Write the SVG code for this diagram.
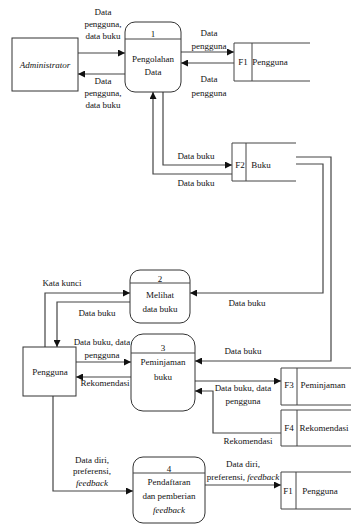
<svg xmlns="http://www.w3.org/2000/svg" width="351" height="525" viewBox="0 0 351 525">
<style>
text{font-family:'Liberation Serif','Times New Roman','DejaVu Serif',serif;font-size:9px;fill:#111;text-anchor:middle}
.it{font-style:italic}
.box{fill:#fff;stroke:#333;stroke-width:1}
.ln{fill:none;stroke:#444;stroke-width:1.2}
.st{fill:none;stroke:#444;stroke-width:1}
</style>
<defs>
<marker id="ah" viewBox="0 0 10 10" refX="10" refY="5" markerWidth="7" markerHeight="7" orient="auto" markerUnits="userSpaceOnUse">
<path d="M0,0 L10,5 L0,10 z" fill="#111"/>
</marker>
</defs>
<rect width="351" height="525" fill="#fff"/>
<g font-family="Liberation Serif, Times New Roman, serif">
<g id="connectors">
<line class="ln" x1="78" y1="53" x2="125" y2="53" marker-end="url(#ah)"/>
<line class="ln" x1="125" y1="74" x2="78" y2="74" marker-end="url(#ah)"/>
<line class="ln" x1="181" y1="52" x2="234" y2="52" marker-end="url(#ah)"/>
<line class="ln" x1="234" y1="63" x2="181" y2="63" marker-end="url(#ah)"/>
<polyline class="ln" points="163,92 163,165 232,165" marker-end="url(#ah)"/>
<polyline class="ln" points="232,174 153,174 153,92" marker-end="url(#ah)"/>
<polyline class="ln" points="296,164 323,164 323,293 190,293" marker-end="url(#ah)"/>
<polyline class="ln" points="296,157 331,157 331,361 195,361" marker-end="url(#ah)"/>
<polyline class="ln" points="45,347 45,293 130,293" marker-end="url(#ah)"/>
<polyline class="ln" points="130,302 57,302 57,347" marker-end="url(#ah)"/>
<line class="ln" x1="76" y1="362" x2="131" y2="362" marker-end="url(#ah)"/>
<line class="ln" x1="131" y1="377" x2="76" y2="377" marker-end="url(#ah)"/>
<line class="ln" x1="195" y1="381" x2="281" y2="381" marker-end="url(#ah)"/>
<polyline class="ln" points="281,433 213,433 213,391 195,391" marker-end="url(#ah)"/>
<polyline class="ln" points="53,396 53,491 133,491" marker-end="url(#ah)"/>
<line class="ln" x1="205" y1="485" x2="281" y2="485" marker-end="url(#ah)"/>
</g>

<g id="labels">
<text x="103" y="15">Data</text>
<text x="103" y="27">pengguna,</text>
<text x="103" y="39">data buku</text>
<text x="103" y="84">Data</text>
<text x="103" y="96">pengguna,</text>
<text x="103" y="108">data buku</text>
<text x="209" y="36">Data</text>
<text x="209" y="49">pengguna</text>
<text x="209" y="82">Data</text>
<text x="209" y="96">pengguna</text>
<text x="196" y="159">Data buku</text>
<text x="196" y="186">Data buku</text>
<text x="62" y="286">Kata kunci</text>
<text x="97" y="316">Data buku</text>
<text x="247" y="306">Data buku</text>
<text x="243" y="354">Data buku</text>
<text x="102" y="345">Data buku, data</text>
<text x="102" y="358">pengguna</text>
<text x="105" y="386">Rekomendasi</text>
<text x="243" y="391">Data buku, data</text>
<text x="243" y="404">pengguna</text>
<text x="248" y="444">Rekomendasi</text>
<text x="92" y="463">Data diri,</text>
<text x="92" y="474">preferensi,</text>
<text x="92" y="486" class="it">feedback</text>
<text x="243" y="467">Data diri,</text>
<text x="243" y="480">preferensi, <tspan class="it">feedback</tspan></text>
</g>

<g id="administrator">
<rect class="box" x="12" y="38" width="66" height="53"/>
<text x="45" y="68" class="it">Administrator</text>
</g>

<g id="p1">
<rect class="box" x="125" y="22" width="56" height="70" rx="10"/>
<line class="st" x1="125" y1="39" x2="181" y2="39"/>
<text x="153" y="37">1</text>
<text x="153" y="62">Pengolahan</text>
<text x="153" y="75">Data</text>
</g>

<g id="f1a">
<polyline class="st" points="310,43 234,43 234,81 310,81"/>
<line class="st" x1="252" y1="43" x2="252" y2="81"/>
<text x="243" y="65">F1</text>
<text x="270" y="65">Pengguna</text>
</g>

<g id="f2">
<polyline class="st" points="296,143 232,143 232,181 296,181"/>
<line class="st" x1="246" y1="143" x2="246" y2="181"/>
<text x="240" y="168">F2</text>
<text x="261" y="168">Buku</text>
</g>

<g id="p2">
<rect class="box" x="130" y="270" width="60" height="53" rx="10"/>
<line class="st" x1="130" y1="283" x2="190" y2="283"/>
<text x="160" y="282">2</text>
<text x="160" y="298">Melihat</text>
<text x="160" y="312">data buku</text>
</g>

<g id="pengguna">
<rect class="box" x="23" y="347" width="53" height="49"/>
<text x="50" y="375">Pengguna</text>
</g>

<g id="p3">
<rect class="box" x="131" y="334" width="64" height="77" rx="12"/>
<line class="st" x1="131" y1="353" x2="195" y2="353"/>
<text x="163" y="351">3</text>
<text x="163" y="365">Peminjaman</text>
<text x="163" y="380">buku</text>
</g>

<g id="f3">
<polyline class="st" points="351,368 281,368 281,405 351,405"/>
<line class="st" x1="297" y1="368" x2="297" y2="405"/>
<text x="289" y="388">F3</text>
<text x="323" y="388">Peminjaman</text>
</g>

<g id="f4">
<polyline class="st" points="351,410 281,410 281,446 351,446"/>
<line class="st" x1="297" y1="410" x2="297" y2="446"/>
<text x="289" y="431">F4</text>
<text x="324" y="431">Rekomendasi</text>
</g>

<g id="p4">
<rect class="box" x="133" y="457" width="72" height="66" rx="10"/>
<line class="st" x1="133" y1="473" x2="205" y2="473"/>
<text x="169" y="472">4</text>
<text x="169" y="485">Pendaftaran</text>
<text x="169" y="499">dan pemberian</text>
<text x="169" y="513" class="it">feedback</text>
</g>

<g id="f1b">
<polyline class="st" points="351,472 281,472 281,509 351,509"/>
<line class="st" x1="296" y1="472" x2="296" y2="509"/>
<text x="288" y="494">F1</text>
<text x="320" y="494">Pengguna</text>
</g>
</g>
</svg>
